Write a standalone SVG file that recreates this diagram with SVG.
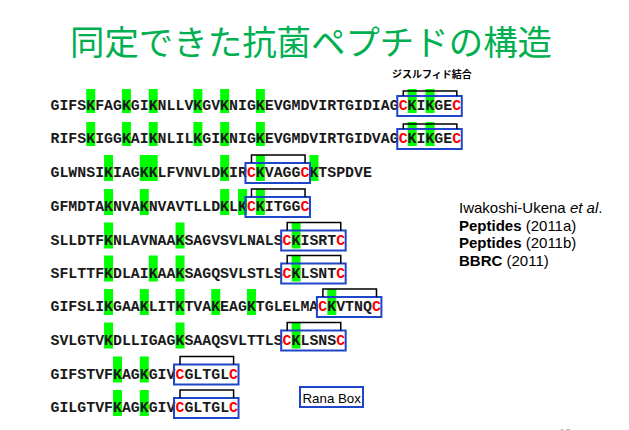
<svg xmlns="http://www.w3.org/2000/svg" width="629" height="430" viewBox="0 0 629 430">
<style>
.seq{font-family:"Liberation Mono","Courier New",monospace;font-weight:bold;font-size:14.88px;fill:#1a1a1a}
.c{fill:#ff0000}
.g{fill:#00ff00}
.box{fill:none;stroke:#1f45c8;stroke-width:2}
.br{fill:none;stroke:#000;stroke-width:1.5}
.ref{font-family:"Liberation Sans",Arial,sans-serif;font-size:15px;fill:#000}
</style>
<rect width="629" height="430" fill="#fff"/>
<text x="70" y="54.5" font-family="'Noto Sans CJK JP',sans-serif" font-size="34" fill="#00b050" textLength="482" lengthAdjust="spacingAndGlyphs">同定できた抗菌ペプチドの構造</text>
<text x="392" y="78" font-family="'Noto Sans CJK JP',sans-serif" font-size="10" font-weight="bold" fill="#000">ジスルフィド結合</text>

<g id="row1">
<rect class="g" x="86.22" y="89" width="9" height="24"/><rect class="g" x="121.94" y="89" width="9" height="24"/><rect class="g" x="148.73" y="89" width="9" height="24"/><rect class="g" x="193.38" y="89" width="9" height="24"/><rect class="g" x="220.17" y="89" width="9" height="24"/><rect class="g" x="255.89" y="89" width="9" height="24"/><rect class="g" x="407.7" y="89" width="9" height="24"/><rect class="g" x="425.56" y="89" width="9" height="24"/>
<text class="seq" x="50.5" y="110">GIFSKFAGKGIKNLLVKGVKNIGKEVGMDVIRTGIDIAG<tspan class="c">C</tspan>KIKGE<tspan class="c">C</tspan></text>
<rect class="box" x="397.27" y="96" width="64.5" height="20"/>
</g>
<g id="row2">
<rect class="g" x="86.22" y="122" width="9" height="24"/><rect class="g" x="121.94" y="122" width="9" height="24"/><rect class="g" x="148.73" y="122" width="9" height="24"/><rect class="g" x="193.38" y="122" width="9" height="24"/><rect class="g" x="220.17" y="122" width="9" height="24"/><rect class="g" x="255.89" y="122" width="9" height="24"/><rect class="g" x="407.7" y="122" width="9" height="24"/><rect class="g" x="425.56" y="122" width="9" height="24"/>
<text class="seq" x="50.5" y="143">RIFSKIGGKAIKNLILKGIKNIGKEVGMDVIRTGIDVAG<tspan class="c">C</tspan>KIKGE<tspan class="c">C</tspan></text>
<rect class="box" x="397.27" y="129" width="64.5" height="20"/>
</g>
<g id="row3">
<rect class="g" x="104.08" y="155" width="9" height="26"/><rect class="g" x="139.8" y="155" width="17.9" height="26"/><rect class="g" x="220.17" y="155" width="9" height="26"/><rect class="g" x="255.89" y="155" width="9" height="26"/><rect class="g" x="309.47" y="155" width="9" height="26"/>
<text class="seq" x="50.5" y="177">GLWNSIKIAGKKLFVNVLDKIR<tspan class="c">C</tspan>KVAGG<tspan class="c">C</tspan>KTSPDVE</text>
<rect class="box" x="245.46" y="163" width="64.5" height="20"/>
</g>
<g id="row4">
<rect class="g" x="104.08" y="189" width="9" height="26"/><rect class="g" x="139.8" y="189" width="9" height="26"/><rect class="g" x="220.17" y="189" width="9" height="26"/><rect class="g" x="238.03" y="189" width="9" height="26"/><rect class="g" x="255.89" y="189" width="9" height="26"/>
<text class="seq" x="50.5" y="211">GFMDTAKNVAKNVAVTLLDKLK<tspan class="c">C</tspan>KITGG<tspan class="c">C</tspan></text>
<rect class="box" x="245.46" y="197" width="64.5" height="20"/>
</g>
<g id="row5">
<rect class="g" x="104.08" y="222.5" width="9" height="26"/><rect class="g" x="175.52" y="222.5" width="9" height="26"/><rect class="g" x="291.61" y="222.5" width="9" height="26"/>
<text class="seq" x="50.5" y="244.5">SLLDTFKNLAVNAAKSAGVSVLNALS<tspan class="c">C</tspan>KISRT<tspan class="c">C</tspan></text>
<rect class="box" x="281.18" y="230.5" width="64.5" height="20"/>
</g>
<g id="row6">
<rect class="g" x="104.08" y="255.5" width="9" height="26"/><rect class="g" x="148.73" y="255.5" width="9" height="26"/><rect class="g" x="175.52" y="255.5" width="9" height="26"/><rect class="g" x="291.61" y="255.5" width="9" height="26"/>
<text class="seq" x="50.5" y="277.5">SFLTTFKDLAIKAAKSAGQSVLSTLS<tspan class="c">C</tspan>KLSNT<tspan class="c">C</tspan></text>
<rect class="box" x="281.18" y="263.5" width="64.5" height="20"/>
</g>
<g id="row7">
<rect class="g" x="104.08" y="289" width="9" height="26"/><rect class="g" x="139.8" y="289" width="9" height="26"/><rect class="g" x="175.52" y="289" width="9" height="26"/><rect class="g" x="211.24" y="289" width="9" height="26"/><rect class="g" x="246.96" y="289" width="9" height="26"/><rect class="g" x="327.33" y="289" width="9" height="26"/>
<text class="seq" x="50.5" y="311">GIFSLIKGAAKLITKTVAKEAGKTGLELMA<tspan class="c">C</tspan>KVTNQ<tspan class="c">C</tspan></text>
<rect class="box" x="316.9" y="297" width="64.5" height="20"/>
</g>
<g id="row8">
<rect class="g" x="104.08" y="322.5" width="9" height="26"/><rect class="g" x="175.52" y="322.5" width="9" height="26"/><rect class="g" x="291.61" y="322.5" width="9" height="26"/>
<text class="seq" x="50.5" y="344.5">SVLGTVKDLLIGAGKSAAQSVLTTLS<tspan class="c">C</tspan>KLSNS<tspan class="c">C</tspan></text>
<rect class="box" x="281.18" y="330.5" width="64.5" height="20"/>
</g>
<g id="row9">
<rect class="g" x="113.01" y="356.5" width="9" height="26"/><rect class="g" x="139.8" y="356.5" width="9" height="26"/>
<text class="seq" x="50.5" y="378.5">GIFSTVFKAGKGIV<tspan class="c">C</tspan>GLTGL<tspan class="c">C</tspan></text>
<rect class="box" x="174.02" y="364.5" width="64.5" height="20"/>
</g>
<g id="row10">
<rect class="g" x="113.01" y="390" width="9" height="26"/><rect class="g" x="139.8" y="390" width="9" height="26"/>
<text class="seq" x="50.5" y="412">GILGTVFKAGKGIV<tspan class="c">C</tspan>GLTGL<tspan class="c">C</tspan></text>
<rect class="box" x="174.02" y="398" width="64.5" height="20"/>
</g>

<g id="connectors">
<path class="br" d="M403.27 96V91H456.85V96"/>
<path class="br" d="M403.27 129V124H456.85V129"/>
<path class="br" d="M251.46 163V155H305.04V163"/>
<path class="br" d="M251.46 197V189H305.04V197"/>
<path class="br" d="M287.18 230.5V222.5H340.76V230.5"/>
<path class="br" d="M287.18 263.5V255.5H340.76V263.5"/>
<path class="br" d="M322.9 297V289H376.48V297"/>
<path class="br" d="M287.18 330.5V322.5H340.76V330.5"/>
<path class="br" d="M180.02 364.5V356.5H233.6V364.5"/>
<path class="br" d="M180.02 398V390H233.6V398"/>
</g>

<g id="references">
<text class="ref" x="459" y="213">Iwakoshi-Ukena <tspan font-style="italic">et al</tspan>.</text>
<text class="ref" x="459" y="230.5"><tspan font-weight="bold">Peptides</tspan> (2011a)</text>
<text class="ref" x="459" y="248"><tspan font-weight="bold">Peptides</tspan> (2011b)</text>
<text class="ref" x="459" y="265.5"><tspan font-weight="bold">BBRC</tspan> (2011)</text>
</g>
<g id="ranabox">
<rect class="box" x="300" y="387" width="63" height="20"/>
<text x="302.5" y="403" font-family="'Liberation Sans',Arial,sans-serif" font-size="13.3" fill="#000">Rana Box</text>
</g>
<text x="559" y="437" font-family="'Liberation Sans',Arial,sans-serif" font-size="11" fill="#999">18</text>
</svg>
